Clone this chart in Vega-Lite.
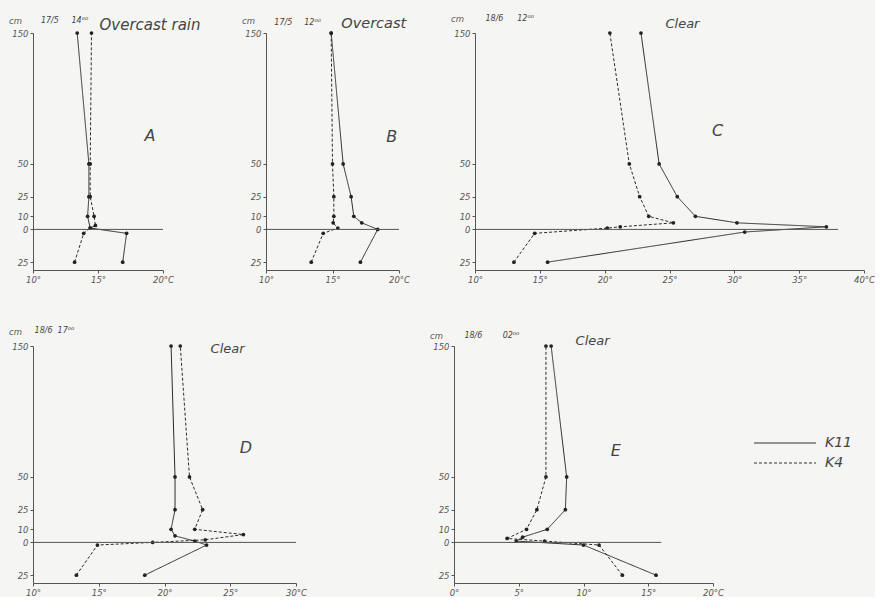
{
  "$schema": "https://vega.github.io/schema/vega-lite/v6.json",
  "background": "#f5f5f3",
  "padding": {"left": 8, "top": 14, "right": 0, "bottom": 0},
  "config": {
    "view": {"stroke": null},
    "font": "DejaVu Sans",
    "axis": {"grid": false, "domainColor": "#555", "domainWidth": 1, "tickColor": "#555", "tickSize": 3, "labelColor": "#555", "labelFont": "DejaVu Sans", "labelFontSize": 8.5, "labelFontStyle": "italic", "labelPadding": 2, "labelOverlap": false, "labelFlush": false, "titleFont": "DejaVu Sans", "titleFontSize": 8.5, "titleFontStyle": "italic", "titleFontWeight": "normal", "titleColor": "#555"},
    "axisY": {"titleAngle": 0, "titleAlign": "center", "titleBaseline": "middle", "titleX": -18, "titleY": -12},
    "text": {"font": "DejaVu Sans", "fontStyle": "italic", "color": "#444"}
  },
  "datasets": {
    "profiles": [
      {"panel": "A", "series": "K11", "height": 150, "temp": 13.4},
      {"panel": "A", "series": "K11", "height": 50, "temp": 14.3},
      {"panel": "A", "series": "K11", "height": 25, "temp": 14.3},
      {"panel": "A", "series": "K11", "height": 10, "temp": 14.2},
      {"panel": "A", "series": "K11", "height": 1, "temp": 14.4},
      {"panel": "A", "series": "K11", "height": -3, "temp": 17.2},
      {"panel": "A", "series": "K11", "height": -25, "temp": 16.9},
      {"panel": "A", "series": "K4", "height": 150, "temp": 14.5},
      {"panel": "A", "series": "K4", "height": 50, "temp": 14.4},
      {"panel": "A", "series": "K4", "height": 25, "temp": 14.4},
      {"panel": "A", "series": "K4", "height": 10, "temp": 14.7},
      {"panel": "A", "series": "K4", "height": 3, "temp": 14.8},
      {"panel": "A", "series": "K4", "height": 1, "temp": 14.4},
      {"panel": "A", "series": "K4", "height": -3, "temp": 13.9},
      {"panel": "A", "series": "K4", "height": -25, "temp": 13.2},
      {"panel": "B", "series": "K11", "height": 150, "temp": 14.9},
      {"panel": "B", "series": "K11", "height": 50, "temp": 15.8},
      {"panel": "B", "series": "K11", "height": 25, "temp": 16.4},
      {"panel": "B", "series": "K11", "height": 10, "temp": 16.6},
      {"panel": "B", "series": "K11", "height": 5, "temp": 17.2},
      {"panel": "B", "series": "K11", "height": 0, "temp": 18.4},
      {"panel": "B", "series": "K11", "height": -25, "temp": 17.1},
      {"panel": "B", "series": "K4", "height": 150, "temp": 14.9},
      {"panel": "B", "series": "K4", "height": 50, "temp": 15.0},
      {"panel": "B", "series": "K4", "height": 25, "temp": 15.1},
      {"panel": "B", "series": "K4", "height": 10, "temp": 15.1},
      {"panel": "B", "series": "K4", "height": 5, "temp": 15.05},
      {"panel": "B", "series": "K4", "height": 1, "temp": 15.4},
      {"panel": "B", "series": "K4", "height": -3, "temp": 14.3},
      {"panel": "B", "series": "K4", "height": -25, "temp": 13.4},
      {"panel": "C", "series": "K11", "height": 150, "temp": 22.8},
      {"panel": "C", "series": "K11", "height": 50, "temp": 24.2},
      {"panel": "C", "series": "K11", "height": 25, "temp": 25.6},
      {"panel": "C", "series": "K11", "height": 10, "temp": 27.0},
      {"panel": "C", "series": "K11", "height": 5, "temp": 30.2},
      {"panel": "C", "series": "K11", "height": 2, "temp": 37.1},
      {"panel": "C", "series": "K11", "height": -2, "temp": 30.8},
      {"panel": "C", "series": "K11", "height": -25, "temp": 15.6},
      {"panel": "C", "series": "K4", "height": 150, "temp": 20.4},
      {"panel": "C", "series": "K4", "height": 50, "temp": 21.9},
      {"panel": "C", "series": "K4", "height": 25, "temp": 22.7},
      {"panel": "C", "series": "K4", "height": 10, "temp": 23.4},
      {"panel": "C", "series": "K4", "height": 5, "temp": 25.3},
      {"panel": "C", "series": "K4", "height": 2, "temp": 21.2},
      {"panel": "C", "series": "K4", "height": 1, "temp": 20.2},
      {"panel": "C", "series": "K4", "height": -3, "temp": 14.6},
      {"panel": "C", "series": "K4", "height": -25, "temp": 13.0},
      {"panel": "D", "series": "K11", "height": 150, "temp": 20.5},
      {"panel": "D", "series": "K11", "height": 50, "temp": 20.8},
      {"panel": "D", "series": "K11", "height": 25, "temp": 20.8},
      {"panel": "D", "series": "K11", "height": 10, "temp": 20.5},
      {"panel": "D", "series": "K11", "height": 5, "temp": 20.8},
      {"panel": "D", "series": "K11", "height": 1, "temp": 22.3},
      {"panel": "D", "series": "K11", "height": -2, "temp": 23.2},
      {"panel": "D", "series": "K11", "height": -25, "temp": 18.5},
      {"panel": "D", "series": "K4", "height": 150, "temp": 21.2},
      {"panel": "D", "series": "K4", "height": 50, "temp": 21.9},
      {"panel": "D", "series": "K4", "height": 25, "temp": 22.9},
      {"panel": "D", "series": "K4", "height": 10, "temp": 22.3},
      {"panel": "D", "series": "K4", "height": 6, "temp": 26.0},
      {"panel": "D", "series": "K4", "height": 2, "temp": 23.1},
      {"panel": "D", "series": "K4", "height": 0, "temp": 19.1},
      {"panel": "D", "series": "K4", "height": -2, "temp": 14.9},
      {"panel": "D", "series": "K4", "height": -25, "temp": 13.3},
      {"panel": "E", "series": "K11", "height": 150, "temp": 7.5},
      {"panel": "E", "series": "K11", "height": 50, "temp": 8.7},
      {"panel": "E", "series": "K11", "height": 25, "temp": 8.6},
      {"panel": "E", "series": "K11", "height": 10, "temp": 7.2},
      {"panel": "E", "series": "K11", "height": 4, "temp": 5.3},
      {"panel": "E", "series": "K11", "height": 1, "temp": 4.8},
      {"panel": "E", "series": "K11", "height": -2, "temp": 10.0},
      {"panel": "E", "series": "K11", "height": -25, "temp": 15.6},
      {"panel": "E", "series": "K4", "height": 150, "temp": 7.1},
      {"panel": "E", "series": "K4", "height": 50, "temp": 7.1},
      {"panel": "E", "series": "K4", "height": 25, "temp": 6.4},
      {"panel": "E", "series": "K4", "height": 10, "temp": 5.6},
      {"panel": "E", "series": "K4", "height": 3, "temp": 4.1},
      {"panel": "E", "series": "K4", "height": 1, "temp": 7.0},
      {"panel": "E", "series": "K4", "height": -2, "temp": 11.2},
      {"panel": "E", "series": "K4", "height": -25, "temp": 13.0}
    ],
    "labels": [
      {"panel": "A", "date": "17/5", "time": "14⁰⁰", "weather": "Overcast rain", "letter": "A"},
      {"panel": "B", "date": "17/5", "time": "12⁰⁰", "weather": "Overcast", "letter": "B"},
      {"panel": "C", "date": "18/6", "time": "12⁰⁰", "weather": "Clear", "letter": "C"},
      {"panel": "D", "date": "18/6", "time": "17⁰⁰", "weather": "Clear", "letter": "D"},
      {"panel": "E", "date": "18/6", "time": "02⁰⁰", "weather": "Clear", "letter": "E"}
    ]
  },
  "resolve": {"scale": {"strokeDash": "independent"}},
  "spacing": 42,
  "vconcat": [
    {
      "spacing": 40,
      "resolve": {"scale": {"strokeDash": "independent"}},
      "hconcat": [
        {
          "width": 130, "height": 237,
          "layer": [
            {"data": {"name": "profiles"}, "transform": [{"filter": "datum.panel == 'A'"}],
             "mark": {"type": "line", "color": "#2b2b2b", "strokeWidth": 1},
             "encoding": {
               "x": {"field": "temp", "type": "quantitative", "scale": {"domain": [10, 20], "nice": false, "zero": false}, "axis": {"values": [10, 15, 20], "labelExpr": "datum.value == 20 ? '20°C' : datum.value + '°'", "title": null}},
               "y": {"field": "height", "type": "quantitative", "scale": {"domain": [-31, 150], "nice": false, "zero": false}, "axis": {"values": [-25, 0, 10, 25, 50, 150], "labelExpr": "abs(datum.value)", "title": "cm", "titleY": -13}},
               "strokeDash": {"field": "series", "type": "nominal", "scale": {"domain": ["K11", "K4"], "range": [[1, 0], [3, 2]]}, "legend": null},
               "order": {"field": "height", "type": "quantitative"}}},
            {"data": {"name": "profiles"}, "transform": [{"filter": "datum.panel == 'A'"}],
             "mark": {"type": "circle", "size": 14, "color": "#222", "opacity": 1},
             "encoding": {"x": {"field": "temp", "type": "quantitative"}, "y": {"field": "height", "type": "quantitative"}}},
            {"data": {"values": [{}]}, "mark": {"type": "rule", "color": "#555", "strokeWidth": 1},
             "encoding": {"x": {"datum": 10}, "x2": {"datum": 20}, "y": {"datum": 0}}},
            {"data": {"name": "labels"}, "transform": [{"filter": "datum.panel == 'A'"}], "mark": {"type": "text", "fontSize": 8},
             "encoding": {"x": {"datum": 11.3}, "y": {"datum": 159}, "text": {"field": "date"}}},
            {"data": {"name": "labels"}, "transform": [{"filter": "datum.panel == 'A'"}], "mark": {"type": "text", "fontSize": 8},
             "encoding": {"x": {"datum": 13.6}, "y": {"datum": 159}, "text": {"field": "time"}}},
            {"data": {"name": "labels"}, "transform": [{"filter": "datum.panel == 'A'"}], "mark": {"type": "text", "fontSize": 15},
             "encoding": {"x": {"datum": 19.0}, "y": {"datum": 156}, "text": {"field": "weather"}}},
            {"data": {"name": "labels"}, "transform": [{"filter": "datum.panel == 'A'"}], "mark": {"type": "text", "fontSize": 16},
             "encoding": {"x": {"datum": 19.0}, "y": {"datum": 71}, "text": {"field": "letter"}}}
          ]
        },
        {
          "width": 133, "height": 237,
          "layer": [
            {"data": {"name": "profiles"}, "transform": [{"filter": "datum.panel == 'B'"}],
             "mark": {"type": "line", "color": "#2b2b2b", "strokeWidth": 1},
             "encoding": {
               "x": {"field": "temp", "type": "quantitative", "scale": {"domain": [10, 20], "nice": false, "zero": false}, "axis": {"values": [10, 15, 20], "labelExpr": "datum.value == 20 ? '20°C' : datum.value + '°'", "title": null}},
               "y": {"field": "height", "type": "quantitative", "scale": {"domain": [-31, 150], "nice": false, "zero": false}, "axis": {"values": [-25, 0, 10, 25, 50, 150], "labelExpr": "abs(datum.value)", "title": "cm", "titleY": -13}},
               "strokeDash": {"field": "series", "type": "nominal", "scale": {"domain": ["K11", "K4"], "range": [[1, 0], [3, 2]]}, "legend": null},
               "order": {"field": "height", "type": "quantitative"}}},
            {"data": {"name": "profiles"}, "transform": [{"filter": "datum.panel == 'B'"}],
             "mark": {"type": "circle", "size": 14, "color": "#222", "opacity": 1},
             "encoding": {"x": {"field": "temp", "type": "quantitative"}, "y": {"field": "height", "type": "quantitative"}}},
            {"data": {"values": [{}]}, "mark": {"type": "rule", "color": "#555", "strokeWidth": 1},
             "encoding": {"x": {"datum": 10}, "x2": {"datum": 20}, "y": {"datum": 0}}},
            {"data": {"name": "labels"}, "transform": [{"filter": "datum.panel == 'B'"}], "mark": {"type": "text", "fontSize": 8},
             "encoding": {"x": {"datum": 11.3}, "y": {"datum": 158}, "text": {"field": "date"}}},
            {"data": {"name": "labels"}, "transform": [{"filter": "datum.panel == 'B'"}], "mark": {"type": "text", "fontSize": 8},
             "encoding": {"x": {"datum": 13.5}, "y": {"datum": 158}, "text": {"field": "time"}}},
            {"data": {"name": "labels"}, "transform": [{"filter": "datum.panel == 'B'"}], "mark": {"type": "text", "fontSize": 14.5},
             "encoding": {"x": {"datum": 18.1}, "y": {"datum": 156.5}, "text": {"field": "weather"}}},
            {"data": {"name": "labels"}, "transform": [{"filter": "datum.panel == 'B'"}], "mark": {"type": "text", "fontSize": 16},
             "encoding": {"x": {"datum": 19.45}, "y": {"datum": 70.5}, "text": {"field": "letter"}}}
          ]
        },
        {
          "width": 389, "height": 237,
          "layer": [
            {"data": {"name": "profiles"}, "transform": [{"filter": "datum.panel == 'C'"}],
             "mark": {"type": "line", "color": "#2b2b2b", "strokeWidth": 1},
             "encoding": {
               "x": {"field": "temp", "type": "quantitative", "scale": {"domain": [10, 40], "nice": false, "zero": false}, "axis": {"values": [10, 15, 20, 25, 30, 35, 40], "labelExpr": "datum.value == 40 ? '40°C' : datum.value + '°'", "title": null}},
               "y": {"field": "height", "type": "quantitative", "scale": {"domain": [-31, 150], "nice": false, "zero": false}, "axis": {"values": [-25, 0, 10, 25, 50, 150], "labelExpr": "abs(datum.value)", "title": "cm", "titleY": -15}},
               "strokeDash": {"field": "series", "type": "nominal", "scale": {"domain": ["K11", "K4"], "range": [[1, 0], [3, 2]]}, "legend": null},
               "order": {"field": "height", "type": "quantitative"}}},
            {"data": {"name": "profiles"}, "transform": [{"filter": "datum.panel == 'C'"}],
             "mark": {"type": "circle", "size": 14, "color": "#222", "opacity": 1},
             "encoding": {"x": {"field": "temp", "type": "quantitative"}, "y": {"field": "height", "type": "quantitative"}}},
            {"data": {"values": [{}]}, "mark": {"type": "rule", "color": "#555", "strokeWidth": 1},
             "encoding": {"x": {"datum": 10}, "x2": {"datum": 38}, "y": {"datum": 0}}},
            {"data": {"name": "labels"}, "transform": [{"filter": "datum.panel == 'C'"}], "mark": {"type": "text", "fontSize": 8},
             "encoding": {"x": {"datum": 11.5}, "y": {"datum": 160.5}, "text": {"field": "date"}}},
            {"data": {"name": "labels"}, "transform": [{"filter": "datum.panel == 'C'"}], "mark": {"type": "text", "fontSize": 8},
             "encoding": {"x": {"datum": 13.9}, "y": {"datum": 160.5}, "text": {"field": "time"}}},
            {"data": {"name": "labels"}, "transform": [{"filter": "datum.panel == 'C'"}], "mark": {"type": "text", "fontSize": 13},
             "encoding": {"x": {"datum": 26.0}, "y": {"datum": 156.7}, "text": {"field": "weather"}}},
            {"data": {"name": "labels"}, "transform": [{"filter": "datum.panel == 'C'"}], "mark": {"type": "text", "fontSize": 16},
             "encoding": {"x": {"datum": 28.7}, "y": {"datum": 75.5}, "text": {"field": "letter"}}}
          ]
        }
      ]
    },
    {
      "spacing": 122,
      "resolve": {"scale": {"strokeDash": "independent"}},
      "hconcat": [
        {
          "width": 263, "height": 237,
          "layer": [
            {"data": {"name": "profiles"}, "transform": [{"filter": "datum.panel == 'D'"}],
             "mark": {"type": "line", "color": "#2b2b2b", "strokeWidth": 1},
             "encoding": {
               "x": {"field": "temp", "type": "quantitative", "scale": {"domain": [10, 30], "nice": false, "zero": false}, "axis": {"values": [10, 15, 20, 25, 30], "labelExpr": "datum.value == 30 ? '30°C' : datum.value + '°'", "title": null}},
               "y": {"field": "height", "type": "quantitative", "scale": {"domain": [-31, 150], "nice": false, "zero": false}, "axis": {"values": [-25, 0, 10, 25, 50, 150], "labelExpr": "abs(datum.value)", "title": "cm", "titleY": -15}},
               "strokeDash": {"field": "series", "type": "nominal", "scale": {"domain": ["K11", "K4"], "range": [[1, 0], [3, 2]]}, "legend": null},
               "order": {"field": "height", "type": "quantitative"}}},
            {"data": {"name": "profiles"}, "transform": [{"filter": "datum.panel == 'D'"}],
             "mark": {"type": "circle", "size": 14, "color": "#222", "opacity": 1},
             "encoding": {"x": {"field": "temp", "type": "quantitative"}, "y": {"field": "height", "type": "quantitative"}}},
            {"data": {"values": [{}]}, "mark": {"type": "rule", "color": "#555", "strokeWidth": 1},
             "encoding": {"x": {"datum": 10}, "x2": {"datum": 30}, "y": {"datum": 0}}},
            {"data": {"name": "labels"}, "transform": [{"filter": "datum.panel == 'D'"}], "mark": {"type": "text", "fontSize": 8},
             "encoding": {"x": {"datum": 10.8}, "y": {"datum": 161.5}, "text": {"field": "date"}}},
            {"data": {"name": "labels"}, "transform": [{"filter": "datum.panel == 'D'"}], "mark": {"type": "text", "fontSize": 8},
             "encoding": {"x": {"datum": 12.5}, "y": {"datum": 161.5}, "text": {"field": "time"}}},
            {"data": {"name": "labels"}, "transform": [{"filter": "datum.panel == 'D'"}], "mark": {"type": "text", "fontSize": 13},
             "encoding": {"x": {"datum": 24.8}, "y": {"datum": 148}, "text": {"field": "weather"}}},
            {"data": {"name": "labels"}, "transform": [{"filter": "datum.panel == 'D'"}], "mark": {"type": "text", "fontSize": 16},
             "encoding": {"x": {"datum": 26.2}, "y": {"datum": 72}, "text": {"field": "letter"}}}
          ]
        },
        {
          "width": 259, "height": 237,
          "layer": [
            {"data": {"name": "profiles"}, "transform": [{"filter": "datum.panel == 'E'"}],
             "mark": {"type": "line", "color": "#2b2b2b", "strokeWidth": 1},
             "encoding": {
               "x": {"field": "temp", "type": "quantitative", "scale": {"domain": [0, 20], "nice": false, "zero": false}, "axis": {"values": [0, 5, 10, 15, 20], "labelExpr": "datum.value == 20 ? '20°C' : datum.value + '°'", "title": null}},
               "y": {"field": "height", "type": "quantitative", "scale": {"domain": [-31, 150], "nice": false, "zero": false}, "axis": {"values": [-25, 0, 10, 25, 50, 150], "labelExpr": "abs(datum.value)", "title": "cm", "titleY": -11}},
               "strokeDash": {"field": "series", "type": "nominal", "scale": {"domain": ["K11", "K4"], "range": [[1, 0], [3, 2]]},
                 "legend": {"orient": "none", "legendX": 355, "legendY": 90, "title": null, "padding": 0, "symbolType": "M-12.4,0H0", "symbolSize": 100, "symbolStrokeWidth": 1, "symbolStrokeColor": "#333", "symbolFillColor": "transparent", "labelFont": "DejaVu Sans", "labelFontStyle": "italic", "labelFontSize": 14, "labelColor": "#444", "labelOffset": 2, "rowPadding": 6}},
               "order": {"field": "height", "type": "quantitative"}}},
            {"data": {"name": "profiles"}, "transform": [{"filter": "datum.panel == 'E'"}],
             "mark": {"type": "circle", "size": 14, "color": "#222", "opacity": 1},
             "encoding": {"x": {"field": "temp", "type": "quantitative"}, "y": {"field": "height", "type": "quantitative"}}},
            {"data": {"values": [{}]}, "mark": {"type": "rule", "color": "#555", "strokeWidth": 1},
             "encoding": {"x": {"datum": 0}, "x2": {"datum": 16}, "y": {"datum": 0}}},
            {"data": {"name": "labels"}, "transform": [{"filter": "datum.panel == 'E'"}], "mark": {"type": "text", "fontSize": 8},
             "encoding": {"x": {"datum": 1.5}, "y": {"datum": 158}, "text": {"field": "date"}}},
            {"data": {"name": "labels"}, "transform": [{"filter": "datum.panel == 'E'"}], "mark": {"type": "text", "fontSize": 8},
             "encoding": {"x": {"datum": 4.4}, "y": {"datum": 158}, "text": {"field": "time"}}},
            {"data": {"name": "labels"}, "transform": [{"filter": "datum.panel == 'E'"}], "mark": {"type": "text", "fontSize": 13},
             "encoding": {"x": {"datum": 10.7}, "y": {"datum": 154}, "text": {"field": "weather"}}},
            {"data": {"name": "labels"}, "transform": [{"filter": "datum.panel == 'E'"}], "mark": {"type": "text", "fontSize": 16},
             "encoding": {"x": {"datum": 12.5}, "y": {"datum": 70}, "text": {"field": "letter"}}}
          ]
        }
      ]
    }
  ]
}
